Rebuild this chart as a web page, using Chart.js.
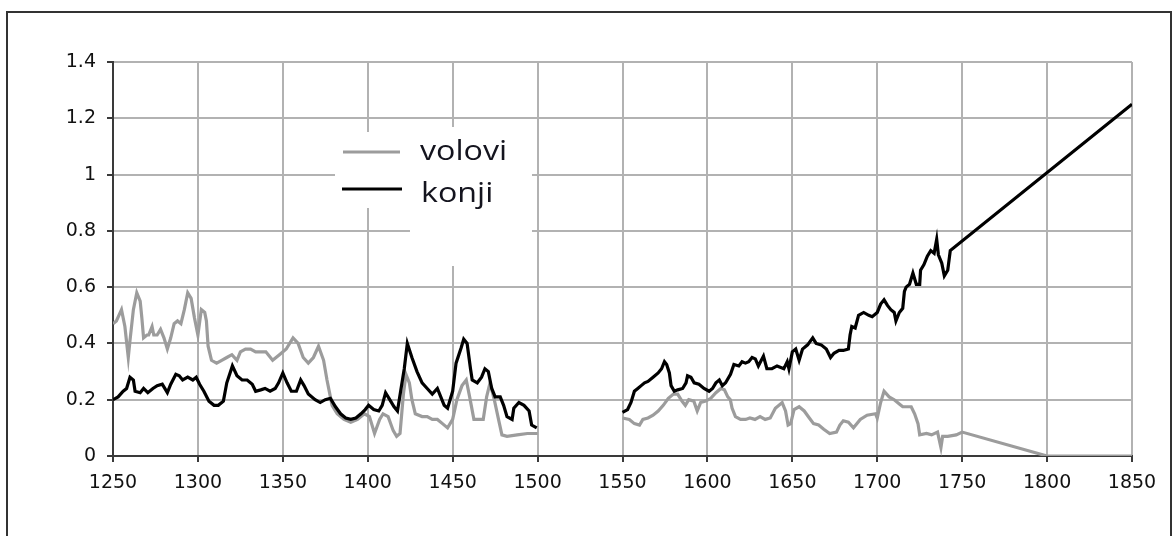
<!DOCTYPE html>
<html>
<head>
<meta charset="utf-8">
<script src="https://cdn.jsdelivr.net/npm/chart.js@4.4.0/dist/chart.umd.min.js"></script>
<style>
  html, body { margin: 0; padding: 0; background: #fff; }
  #wrap { width: 1174px; height: 536px; position: relative; }
</style>
</head>
<body>
<div id="wrap"><canvas id="chart"></canvas></div>
<script>
// volovi (oxen) share, gap between 1500 and 1550
const volYears = [
  1250, 1252, 1255, 1257, 1259, 1260, 1262, 1264, 1266, 1267, 1268, 1270, 1271, 1273, 1274, 1276, 1278, 1280,
  1282, 1284, 1286, 1288, 1290, 1292, 1294, 1296, 1298, 1300, 1302, 1304, 1305, 1306, 1308, 1311, 1314, 1317,
  1320, 1323, 1325, 1328, 1331, 1334, 1336, 1340, 1344, 1348, 1352, 1356, 1359, 1362, 1365, 1368, 1371, 1374,
  1376, 1378, 1379, 1382, 1386, 1390, 1394, 1398, 1401, 1404, 1407, 1409, 1412, 1415, 1417, 1419, 1421, 1422.5,
  1424.5, 1426, 1428, 1432, 1435, 1438, 1441, 1444, 1447, 1450, 1452.5, 1455.5, 1458, 1460, 1462.5, 1465, 1468,
  1470, 1472, 1474.5, 1477, 1479, 1482, 1488, 1494, 1500,
  1525,
  1550, 1554, 1557, 1560, 1562, 1565, 1568, 1571, 1574, 1577, 1580, 1582.5, 1585, 1587, 1589, 1592, 1594, 1596,
  1599, 1602, 1605, 1608, 1610, 1612, 1613.5, 1614.5, 1616.5, 1619.5, 1622.5, 1625, 1628, 1631, 1634, 1637, 1640,
  1644, 1646, 1647.5, 1649, 1651, 1654, 1657, 1660, 1662.5, 1665.5, 1668.5, 1672, 1676, 1678, 1680, 1683, 1686,
  1690, 1694, 1699, 1700, 1702, 1704, 1707, 1710, 1713, 1715, 1720, 1722, 1724, 1725, 1729, 1732, 1735.5, 1737.5,
  1738.5, 1741.5, 1746.5, 1750, 1800, 1850
];
const volValues = [
  0.47, 0.48, 0.52, 0.46, 0.35, 0.41, 0.52, 0.58, 0.55, 0.49, 0.42, 0.43, 0.43, 0.46, 0.43, 0.43, 0.45, 0.42,
  0.38, 0.42, 0.47, 0.48, 0.47, 0.52, 0.58, 0.56, 0.49, 0.43, 0.52, 0.51, 0.48, 0.39, 0.34, 0.33, 0.34, 0.35,
  0.36, 0.34, 0.37, 0.38, 0.38, 0.37, 0.37, 0.37, 0.34, 0.36, 0.38, 0.42, 0.40, 0.35, 0.33, 0.35, 0.39, 0.34,
  0.27, 0.21, 0.18, 0.15, 0.13, 0.12, 0.13, 0.15, 0.14, 0.08, 0.13, 0.15, 0.14, 0.09, 0.07, 0.08, 0.22, 0.29,
  0.26, 0.20, 0.15, 0.14, 0.14, 0.13, 0.13, 0.115, 0.10, 0.13, 0.20, 0.25, 0.27, 0.21, 0.13, 0.13, 0.13,
  0.21, 0.26, 0.20, 0.13, 0.075, 0.07, 0.075, 0.08, 0.08,
  null,
  0.135, 0.13, 0.115, 0.11, 0.13, 0.135, 0.145, 0.16, 0.18, 0.205, 0.22, 0.22, 0.195, 0.18, 0.20, 0.195, 0.16, 0.19,
  0.195, 0.205, 0.225, 0.24, 0.235, 0.21, 0.20, 0.17, 0.14, 0.13, 0.13, 0.135, 0.13, 0.14, 0.13, 0.135, 0.17,
  0.19, 0.16, 0.11, 0.115, 0.165, 0.175, 0.16, 0.135, 0.115, 0.11, 0.095, 0.08, 0.085, 0.11, 0.125, 0.12, 0.10,
  0.13, 0.145, 0.15, 0.135, 0.19, 0.23, 0.21, 0.20, 0.185, 0.175, 0.175, 0.15, 0.115, 0.075, 0.08, 0.075, 0.085, 0.03,
  0.07, 0.07, 0.075, 0.085, 0, 0
];

// konji (horses) share
const konYears = [
  1250, 1253, 1256, 1258, 1260, 1262, 1263, 1266, 1268, 1270.5, 1273.5, 1276, 1279, 1282, 1284, 1287, 1289, 1291,
  1294, 1297, 1299, 1301, 1303.5, 1306.5, 1309.5, 1312, 1315, 1317, 1320.3, 1323, 1326, 1329, 1332, 1334, 1337,
  1339.5, 1342.5, 1345.5, 1347.5, 1350, 1352.5, 1355, 1358, 1360.5, 1362.5, 1365, 1369, 1372, 1375, 1378, 1381,
  1384, 1387, 1390, 1393, 1396, 1398.5, 1400.5, 1403.5, 1406.5, 1408.5, 1410.5, 1412.5, 1415.5, 1417.5, 1419.5,
  1421.5, 1423.3, 1426, 1429, 1432, 1435, 1438, 1441, 1443, 1445, 1447, 1450, 1452, 1455, 1456.5, 1458.5, 1460.5,
  1461.5, 1464.5, 1467, 1469, 1471, 1473, 1475, 1478, 1480, 1482, 1485, 1486, 1489, 1492, 1495, 1496.5, 1499.5,
  1525,
  1550, 1553, 1555, 1557, 1559, 1561, 1563, 1565, 1568, 1571, 1573, 1574.7, 1576, 1577.6, 1578.6, 1580.5, 1582.5,
  1585.4, 1587.4, 1588.3, 1590.3, 1592.2, 1595, 1598, 1601, 1603, 1605, 1607, 1608.8, 1610.7, 1613.6, 1615.6,
  1618.5, 1620.4, 1622.4, 1624.3, 1626.3, 1628.2, 1630, 1633, 1635, 1638, 1641, 1645, 1647, 1648, 1650, 1652,
  1654, 1656, 1659, 1662, 1664, 1667, 1670, 1672.5, 1674.5, 1677.5, 1680, 1683, 1684, 1685, 1687, 1689, 1692,
  1695, 1697, 1700, 1702, 1704, 1706, 1708, 1710, 1711, 1713, 1715, 1716, 1717, 1719, 1721, 1723, 1725, 1725.5,
  1727.5, 1729.5, 1731.5, 1733.5, 1735, 1736, 1738, 1739.5, 1741.5, 1743, 1850
];
const konValues = [
  0.20, 0.21, 0.23, 0.24, 0.28, 0.27, 0.23, 0.225, 0.24, 0.225, 0.24, 0.25, 0.255, 0.225, 0.255, 0.29, 0.285, 0.27,
  0.28, 0.27, 0.28, 0.255, 0.23, 0.195, 0.18, 0.18, 0.195, 0.26, 0.32, 0.285, 0.27, 0.27, 0.255, 0.23, 0.235,
  0.24, 0.23, 0.24, 0.26, 0.295, 0.26, 0.23, 0.23, 0.27, 0.25, 0.22, 0.20, 0.19, 0.20, 0.205, 0.175,
  0.15, 0.135, 0.13, 0.135, 0.15, 0.165, 0.18, 0.165, 0.16, 0.18, 0.225, 0.205, 0.175, 0.16, 0.235,
  0.31, 0.40, 0.35, 0.30, 0.26, 0.24, 0.22, 0.24, 0.21, 0.18, 0.17, 0.23, 0.33, 0.385, 0.415, 0.40, 0.31,
  0.27, 0.26, 0.28, 0.31, 0.30, 0.24, 0.21, 0.21, 0.18, 0.14, 0.13, 0.17, 0.19, 0.18, 0.16, 0.11, 0.10,
  null,
  0.155, 0.165, 0.19, 0.23, 0.24, 0.25, 0.26, 0.265, 0.28, 0.295, 0.31, 0.335, 0.325, 0.295, 0.25, 0.23, 0.235,
  0.24, 0.26, 0.285, 0.28, 0.26, 0.255, 0.24, 0.23, 0.24, 0.26, 0.27, 0.25, 0.26, 0.29, 0.325,
  0.32, 0.335, 0.33, 0.335, 0.35, 0.345, 0.32, 0.355, 0.31, 0.31, 0.32, 0.31, 0.335, 0.31, 0.37, 0.38,
  0.34, 0.38, 0.395, 0.42, 0.40, 0.395, 0.38, 0.35, 0.365, 0.375, 0.375, 0.38, 0.43, 0.46, 0.455, 0.50, 0.51,
  0.50, 0.495, 0.51, 0.54, 0.555, 0.535, 0.52, 0.51, 0.48, 0.51, 0.525, 0.585, 0.60, 0.61, 0.65, 0.61, 0.61, 0.66,
  0.68, 0.71, 0.73, 0.72, 0.77, 0.715, 0.685, 0.64, 0.66, 0.73, 1.25
];

const xTicks = [1250, 1300, 1350, 1400, 1450, 1500, 1550, 1600, 1650, 1700, 1750, 1800, 1850];
const yTicks = [0, 0.2, 0.4, 0.6, 0.8, 1, 1.2, 1.4];
const yTickLabels = ['0', '0.2', '0.4', '0.6', '0.8', '1', '1.2', '1.4'];
const seriesNames = ['volovi', 'konji'];

function toPoints(xs, ys) {
  return xs.map((x, i) => ({ x: x, y: ys[i] }));
}

// white page, outer frame and the boxed legend
const framePlugin = {
  id: 'frame',
  beforeDraw(chart) {
    const ctx = chart.ctx;
    ctx.save();
    ctx.fillStyle = '#fff';
    ctx.fillRect(0, 0, chart.width, chart.height);
    ctx.strokeStyle = '#333';
    ctx.lineWidth = 2;
    ctx.beginPath();
    ctx.moveTo(7, chart.height);
    ctx.lineTo(7, 12);
    ctx.lineTo(1171, 12);
    ctx.lineTo(1171, chart.height);
    ctx.stroke();
    ctx.restore();
  },
  afterDatasetsDraw(chart) {
    const ctx = chart.ctx;
    ctx.save();
    ctx.fillStyle = '#fff';
    ctx.fillRect(335, 132, 75, 76);
    ctx.fillRect(410, 127, 122, 139);

    ctx.lineWidth = 3;
    ctx.strokeStyle = '#9c9c9c';
    ctx.beginPath();
    ctx.moveTo(343, 152);
    ctx.lineTo(400, 152);
    ctx.stroke();
    ctx.strokeStyle = '#000';
    ctx.beginPath();
    ctx.moveTo(342, 189);
    ctx.lineTo(402, 189);
    ctx.stroke();

    ctx.fillStyle = '#14141e';
    ctx.font = '28px "Open Sans"';
    ctx.textBaseline = 'alphabetic';
    ctx.textAlign = 'left';
    [[seriesNames[0], 420, 160], [seriesNames[1], 421, 202]].forEach(([t, x, y]) => {
      ctx.save();
      ctx.translate(x, y);
      ctx.scale(1.15, 1);
      ctx.fillText(t, 0, 0);
      ctx.restore();
    });
    ctx.restore();
  }
};

const gridColor = '#b2b2b2';
const axisColor = '#3a3a3a';
const tickFont = { family: 'DejaVu Sans', size: 19 };

new Chart(document.getElementById('chart'), {
  type: 'line',
  data: {
    datasets: [
      {
        label: seriesNames[1],
        data: toPoints(konYears, konValues),
        borderColor: '#000',
        borderWidth: 3.2,
        pointRadius: 0,
        tension: 0,
        order: 0
      },
      {
        label: seriesNames[0],
        data: toPoints(volYears, volValues),
        borderColor: '#9c9c9c',
        borderWidth: 3.2,
        pointRadius: 0,
        tension: 0,
        order: 1
      }
    ]
  },
  options: {
    responsive: true,
    maintainAspectRatio: false,
    animation: false,
    spanGaps: false,
    layout: { padding: { top: 62, right: 42, left: 0, bottom: 0 } },
    plugins: {
      legend: { display: false },
      tooltip: { enabled: false }
    },
    scales: {
      x: {
        type: 'linear',
        min: 1250,
        max: 1850,
        afterBuildTicks: scale => { scale.ticks = xTicks.map(v => ({ value: v })); },
        afterFit: scale => { scale.height = 80; },
        ticks: {
          callback: v => String(v),
          color: '#111',
          font: tickFont,
          padding: 10,
          maxRotation: 0,
          autoSkip: false
        },
        grid: { color: gridColor, lineWidth: 2, tickColor: axisColor, tickLength: 6, tickWidth: 2 },
        border: { color: axisColor, width: 2 }
      },
      y: {
        min: 0,
        max: 1.4,
        afterBuildTicks: scale => { scale.ticks = yTicks.map(v => ({ value: v })); },
        afterFit: scale => { scale.width = 113; },
        ticks: {
          callback: (v, i) => yTickLabels[i],
          color: '#111',
          font: tickFont,
          padding: 11
        },
        grid: { color: gridColor, lineWidth: 2, tickColor: axisColor, tickLength: 6, tickWidth: 2 },
        border: { color: axisColor, width: 2 }
      }
    }
  },
  plugins: [framePlugin]
});
</script>
</body>
</html>
